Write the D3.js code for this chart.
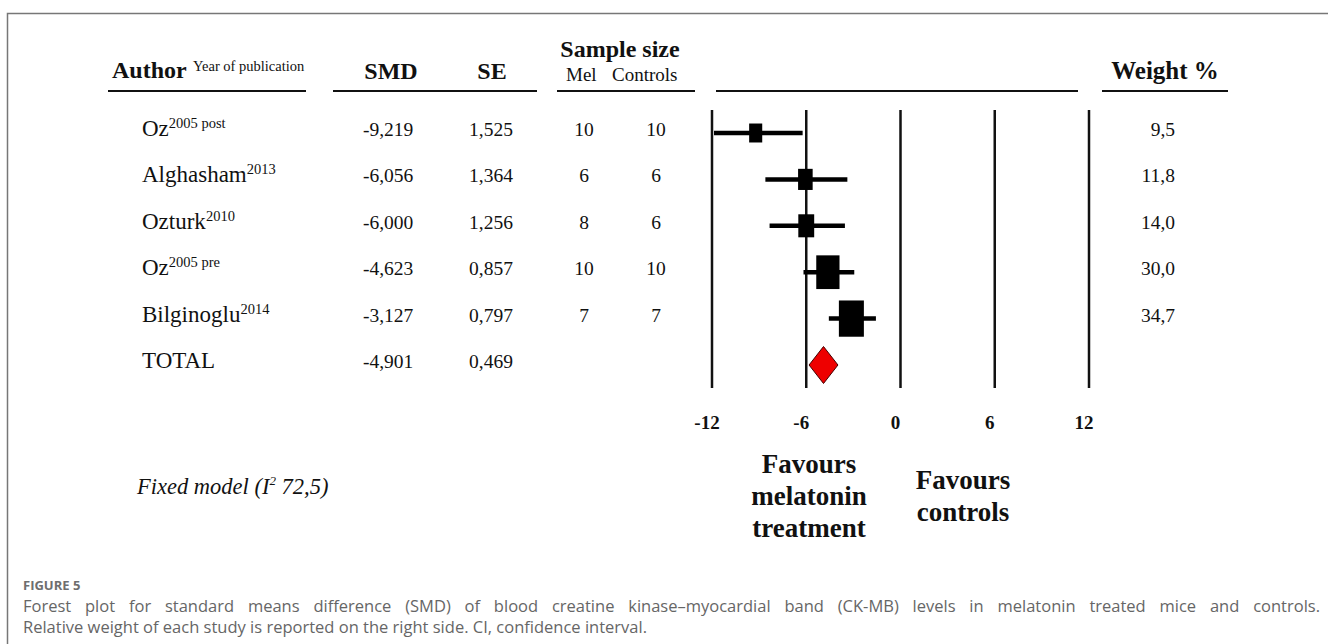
<!DOCTYPE html>
<html>
<head>
<meta charset="utf-8">
<script src="https://cdn.jsdelivr.net/npm/d3@7"></script>
<style>
  body { margin: 0; background: #fff; }
  svg text { font-family: "Liberation Serif", serif; fill: #111; }
</style>
</head>
<body>
<script>
// study data
const authors = ["Oz", "Alghasham", "Ozturk", "Oz", "Bilginoglu"];
const years = ["2005 post", "2013", "2010", "2005 pre", "2014"];
const smd = [-9.219, -6.056, -6.000, -4.623, -3.127];
const se = [1.525, 1.364, 1.256, 0.857, 0.797];
const melN = [10, 6, 8, 10, 7];
const ctrlN = [10, 6, 6, 10, 7];
const weights = [9.5, 11.8, 14.0, 30.0, 34.7];
const totalSmd = -4.901;
const totalSe = 0.469;
const ticks = [-12, -6, 0, 6, 12];

const width = 1328, height = 644;
const svg = d3.select("body").append("svg").attr("width", width).attr("height", height);

const loc = d3.formatLocale({ decimal: ",", thousands: ".", grouping: [3], currency: ["", ""], minus: "-" });
const f3 = loc.format(".3f"), f1 = loc.format(".1f");

// figure frame (only left/top visible)
svg.append("rect").attr("x", 7.5).attr("y", 13.5).attr("width", 1340).attr("height", 700)
  .attr("fill", "none").attr("stroke", "#777").attr("stroke-width", 1.5);

const x = d3.scaleLinear().domain([-12, 12]).range([712, 1089]);
const rowIdx = d3.range(authors.length + 1);
const y = d3.scalePoint().domain(rowIdx).range([133, 365]);
const boxW = d3.scaleSqrt().domain([0, 34.7]).range([0, 25]);

// header
const hdr = svg.append("g");
hdr.append("text").attr("x", 112).attr("y", 78).attr("font-size", 24).attr("font-weight", "bold").text("Author");
hdr.append("text").attr("x", 193).attr("y", 71).attr("font-size", 14.5).text("Year of publication");
hdr.append("text").attr("x", 391).attr("y", 79).attr("text-anchor", "middle").attr("font-size", 24).attr("font-weight", "bold").text("SMD");
hdr.append("text").attr("x", 492).attr("y", 79).attr("text-anchor", "middle").attr("font-size", 24).attr("font-weight", "bold").text("SE");
hdr.append("text").attr("x", 620).attr("y", 57).attr("text-anchor", "middle").attr("font-size", 24).attr("font-weight", "bold").text("Sample size");
hdr.append("text").attr("x", 566).attr("y", 81).attr("font-size", 19).text("Mel");
hdr.append("text").attr("x", 612).attr("y", 81).attr("font-size", 19).text("Controls");
hdr.append("text").attr("x", 1165).attr("y", 79).attr("text-anchor", "middle").attr("font-size", 25).attr("font-weight", "bold").text("Weight %");

const hLines = [[108, 306], [333, 537], [557, 695], [716, 1078], [1102, 1228]];
hdr.selectAll("line").data(hLines).join("line")
  .attr("x1", d => d[0]).attr("x2", d => d[1]).attr("y1", 91).attr("y2", 91)
  .attr("stroke", "#111").attr("stroke-width", 2.2);

// table rows
const rows = svg.append("g").selectAll("g").data(rowIdx).join("g");
rows.each(function (i) {
  const g = d3.select(this);
  const ty = y(i) + 3;
  if (i < authors.length) {
    const t = g.append("text").attr("x", 142).attr("y", ty).attr("font-size", 23);
    t.append("tspan").text(authors[i]);
    t.append("tspan").attr("font-size", 14.5).attr("dy", -8).text(years[i]);
    g.append("text").attr("x", 363).attr("y", ty).attr("font-size", 19.5).text(f3(smd[i]));
    g.append("text").attr("x", 469).attr("y", ty).attr("font-size", 19.5).text(f3(se[i]));
    g.append("text").attr("x", 584).attr("y", ty).attr("text-anchor", "middle").attr("font-size", 19.5).text(melN[i]);
    g.append("text").attr("x", 656).attr("y", ty).attr("text-anchor", "middle").attr("font-size", 19.5).text(ctrlN[i]);
    g.append("text").attr("x", 1175).attr("y", ty).attr("text-anchor", "end").attr("font-size", 19.5).text(f1(weights[i]));
  } else {
    g.append("text").attr("x", 142).attr("y", ty).attr("font-size", 23).text("TOTAL");
    g.append("text").attr("x", 363).attr("y", ty).attr("font-size", 19.5).text(f3(totalSmd));
    g.append("text").attr("x", 469).attr("y", ty).attr("font-size", 19.5).text(f3(totalSe));
  }
});

// plot: vertical reference lines
const plot = svg.append("g");
plot.selectAll("line.grid").data(ticks).join("line").attr("class", "grid")
  .attr("x1", d => x(d)).attr("x2", d => x(d)).attr("y1", 110).attr("y2", 388)
  .attr("stroke", "#111").attr("stroke-width", 2.5);

plot.selectAll("text.tick").data(ticks).join("text").attr("class", "tick")
  .attr("x", d => x(d) - 5).attr("y", 429).attr("text-anchor", "middle")
  .attr("font-size", 19).attr("font-weight", "bold").text(d => d);

// CIs and boxes
const studies = d3.range(authors.length);
const clamp = v => Math.max(-12, Math.min(12, v));
plot.selectAll("line.ci").data(studies).join("line").attr("class", "ci")
  .attr("x1", i => x(clamp(smd[i] - 1.96 * se[i])) + 2)
  .attr("x2", i => x(clamp(smd[i] + 1.96 * se[i])))
  .attr("y1", i => y(i)).attr("y2", i => y(i))
  .attr("stroke", "#000").attr("stroke-width", 4.5);

plot.selectAll("rect.box").data(studies).join("rect").attr("class", "box")
  .attr("x", i => x(smd[i]) - boxW(weights[i]) / 2)
  .attr("y", i => y(i) - boxW(weights[i]) * 1.45 / 2)
  .attr("width", i => boxW(weights[i]))
  .attr("height", i => boxW(weights[i]) * 1.45)
  .attr("fill", "#000");

// pooled diamond
const ty = y(authors.length);
const lo = x(totalSmd - 1.96 * totalSe), hi = x(totalSmd + 1.96 * totalSe), mid = x(totalSmd);
plot.append("path")
  .attr("d", `M${lo},${ty} L${mid},${ty - 18.5} L${hi},${ty} L${mid},${ty + 18.5} Z`)
  .attr("fill", "#ee0000").attr("stroke", "#400").attr("stroke-width", 1);

// favours labels
const fav = svg.append("g");
[["Favours", 473], ["melatonin", 505], ["treatment", 537]].forEach(([t, yy]) =>
  fav.append("text").attr("x", 809).attr("y", yy).attr("text-anchor", "middle")
    .attr("font-size", 27).attr("font-weight", "bold").text(t));
[["Favours", 489], ["controls", 521]].forEach(([t, yy]) =>
  fav.append("text").attr("x", 963).attr("y", yy).attr("text-anchor", "middle")
    .attr("font-size", 27).attr("font-weight", "bold").text(t));

const fm = svg.append("text").attr("x", 137).attr("y", 494).attr("font-size", 22.5).attr("font-style", "italic");
fm.append("tspan").text("Fixed model (I");
fm.append("tspan").attr("font-size", 13).attr("dy", -9).text("2");
fm.append("tspan").attr("dy", 9).text(" 72,5)");

// caption
const capFont = "'Open Sans', sans-serif";
svg.append("text").attr("x", 23).attr("y", 590).attr("font-size", 13).attr("font-weight", "bold")
  .style("font-family", capFont).style("fill", "#6e6e6e").text("FIGURE 5");
const line1 = svg.append("text").attr("x", 23).attr("y", 612).attr("font-size", 16.5)
  .style("font-family", capFont).style("fill", "#666")
  .text("Forest plot for standard means difference (SMD) of blood creatine kinase\u2013myocardial band (CK-MB) levels in melatonin treated mice and controls.");
// justify the first caption line by widening the word gaps
const natural = line1.node().getComputedTextLength();
const gaps = line1.text().split(" ").length - 1;
line1.style("word-spacing", `${Math.max(0, (1297 - natural) / gaps)}px`);
svg.append("text").attr("x", 23).attr("y", 633).attr("font-size", 16.5)
  .style("font-family", capFont).style("fill", "#666")
  .text("Relative weight of each study is reported on the right side. CI, confidence interval.");
</script>
</body>
</html>
